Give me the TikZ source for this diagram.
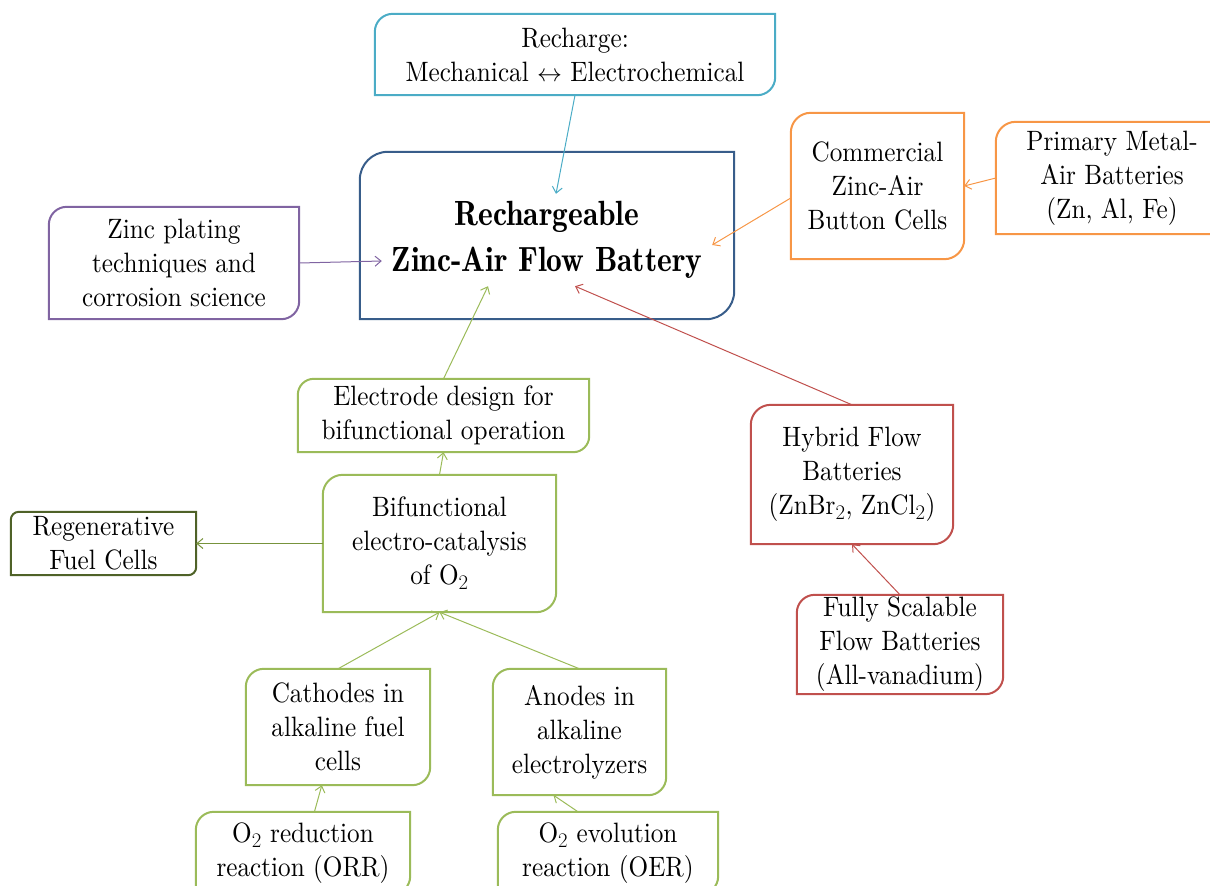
\documentclass[tikz,border=0pt]{standalone}
\usepackage{fontspec}
\setmainfont{lmroman10-regular.otf}[FakeStretch=0.9,BoldFont=lmroman10-bold.otf]
\newfontfamily\titlefont{lmromandemi10-regular.otf}[FakeStretch=0.9]
\usetikzlibrary{arrows.meta}
\definecolor{cyanline}{RGB}{75,172,198}
\definecolor{navyline}{RGB}{56,93,138}
\definecolor{orangeline}{RGB}{247,150,70}
\definecolor{purpleline}{RGB}{128,100,162}
\definecolor{greenline}{RGB}{155,187,89}
\definecolor{olivegreen}{RGB}{79,98,40}
\definecolor{midgreen}{RGB}{119,147,60}
\definecolor{redline}{RGB}{192,80,77}
\tikzstyle{leaf} = [align=center, inner sep=0pt, font=\fontsize{28}{34}\selectfont]
\tikzstyle{conn} = [line width=1pt, -{Straight Barb[length=6pt,width=10pt]}]
\newcommand{\cutbox}[3]{\draw[#2, line width=2pt] (#1.west) [rounded corners=#3] |- (#1.north) [sharp corners] -| (#1.east) [rounded corners=#3] |- (#1.south) [sharp corners] -| (#1.west) -- cycle;}

\begin{document}
\begin{tikzpicture}[x=1pt,y=-1pt]
\useasboundingbox (0,0) rectangle (1210,886);
% centre
\node[minimum width=374pt, minimum height=167pt] (hub) at (547,235.5) {};
\node[minimum width=330pt, minimum height=92pt, inner sep=0pt, align=center, font=\titlefont\fontsize{35}{46}\selectfont] (title) at (547,240) {Rechargeable\\Zinc-Air Flow Battery};
\cutbox{hub}{navyline}{28pt}
% top and left
\node[leaf, minimum width=400pt, minimum height=81pt] (rech) at (575,54.5) {Recharge:\\Mechanical $\leftrightarrow$ Electrochemical};
\node[leaf, minimum width=250pt, minimum height=112pt] (zinc) at (174,263) {Zinc plating\\techniques and\\corrosion science};
\cutbox{rech}{cyanline}{18pt}
\cutbox{zinc}{purpleline}{18pt}
% orange branch
\node[leaf, minimum width=173pt, minimum height=146pt] (comm) at (877.5,186) {Commercial\\Zinc-Air\\Button Cells};
\node[leaf, minimum width=232pt, minimum height=112pt] (prim) at (1112,178) {Primary Metal-\\Air Batteries\\(Zn, Al, Fe)};
\cutbox{comm}{orangeline}{20pt}
\cutbox{prim}{orangeline}{20pt}
% green branch
\node[leaf, minimum width=291pt, minimum height=73pt] (elec) at (443.5,415.5) {Electrode design for\\bifunctional operation};
\node[leaf, minimum width=233pt, minimum height=137pt] (bif) at (439.5,543.5) {Bifunctional\\electro-catalysis\\of O$_2$};
\node[leaf, minimum width=185pt, minimum height=63pt] (regen) at (103.5,543.5) {Regenerative\\Fuel Cells};
\node[leaf, minimum width=184pt, minimum height=116pt] (cath) at (338,727) {Cathodes in\\alkaline fuel\\cells};
\node[leaf, minimum width=173pt, minimum height=126pt] (anod) at (579.5,732) {Anodes in\\alkaline\\electrolyzers};
\node[leaf, minimum width=214pt, minimum height=82pt] (orr) at (303,853) {O$_2$ reduction\\reaction (ORR)};
\node[leaf, minimum width=220pt, minimum height=82pt] (oer) at (608,853) {O$_2$ evolution\\reaction (OER)};
\cutbox{elec}{greenline}{16pt}
\cutbox{bif}{greenline}{20pt}
\cutbox{regen}{olivegreen}{8pt}
\cutbox{cath}{greenline}{18pt}
\cutbox{anod}{greenline}{18pt}
\cutbox{orr}{greenline}{18pt}
\cutbox{oer}{greenline}{18pt}
% red branch
\node[leaf, minimum width=202pt, minimum height=139pt] (hybrid) at (852,474.5) {Hybrid Flow\\Batteries\\(ZnBr$_2$, ZnCl$_2$)};
\node[leaf, minimum width=206pt, minimum height=99pt] (fully) at (900,644.5) {Fully Scalable\\Flow Batteries\\(All-vanadium)};
\cutbox{hybrid}{redline}{20pt}
\cutbox{fully}{redline}{18pt}
% connectors
\draw[conn, cyanline] (rech.south) -- ([xshift=9pt]title.north);
\draw[conn, purpleline] (zinc.east) -- ([yshift=-21pt]title.west);
\draw[conn, orangeline] ([yshift=-12pt]comm.west) -- ([yshift=-5pt]title.east);
\draw[conn, greenline] (elec.north) -- ([xshift=-59pt]title.south);
\draw[conn, redline] (hybrid.north) -- ([xshift=28pt]title.south);
\draw[conn, orangeline] (prim.west) -- (comm.east);
\draw[conn, greenline] (bif.north) -- (elec.south);
\draw[conn, midgreen] (bif.west) -- (regen.east);
\draw[conn, greenline] (cath.north) -- (bif.south);
\draw[conn, greenline] (anod.north) -- (bif.south);
\draw[conn, greenline] (orr) -- (cath);
\draw[conn, greenline] ([xshift=-30pt]oer.north) -- ([xshift=-26pt]anod.south);
\draw[conn, redline] (fully.north) -- (hybrid.south);
\end{tikzpicture}
\end{document}
